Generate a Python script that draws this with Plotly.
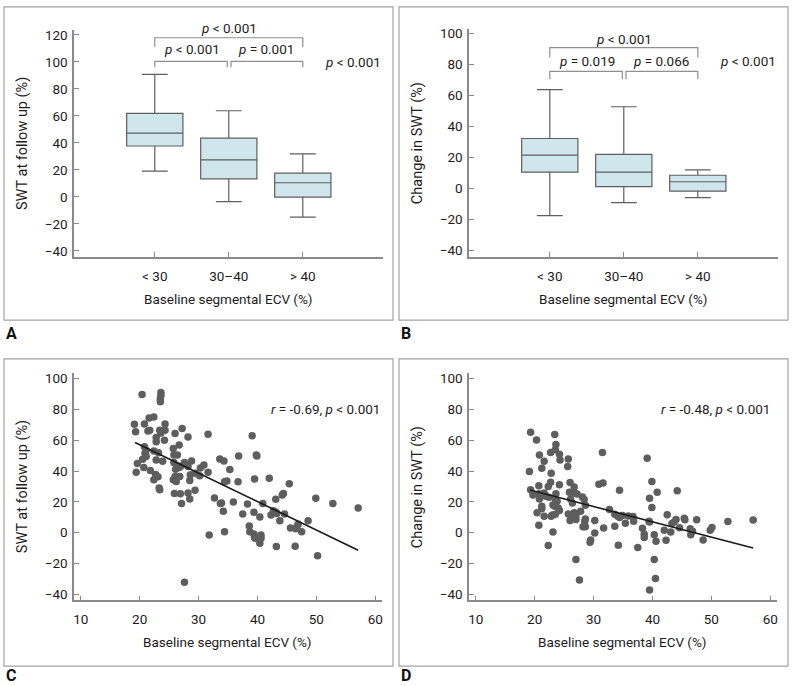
import plotly.graph_objects as go

W, H = 792, 686

# ---------------- data ----------------
categories = ["&lt; 30", "30–40", "&gt; 40"]
cat_pos = [1, 2, 3]

# Panel A: SWT at follow up (%) box stats
a_q1 = [37.7, 13.4, -0.2]
a_median = [47.2, 27.4, 10.5]
a_q3 = [61.9, 43.5, 17.6]
a_lower = [19.1, -3.4, -14.9]
a_upper = [90.7, 63.8, 31.8]

# Panel B: Change in SWT (%) box stats
b_q1 = [10.7, 1.3, -1.5]
b_median = [21.7, 10.7, 4.5]
b_q3 = [32.4, 22.2, 8.7]
b_lower = [-17.3, -9.0, -5.8]
b_upper = [64.0, 52.9, 12.2]

# Pairwise p-values: (left category, right category, label)
a_pairs = [(1, 3, "<i>p</i> &lt; 0.001"), (1, 2, "<i>p</i> &lt; 0.001"), (2, 3, "<i>p</i> = 0.001")]
b_pairs = [(1, 3, "<i>p</i> &lt; 0.001"), (1, 2, "<i>p</i> = 0.019"), (2, 3, "<i>p</i> = 0.066")]
overall_p = "<i>p</i> &lt; 0.001"

# Panel C: ECV vs SWT at follow up
c_x = [20.4, 23.6, 23.6, 23.5, 23.5, 19.1, 19.3, 20.8, 21.6, 22.4, 21.4, 21.7, 24.3, 24.3, 22.8,
       22.8, 23.6, 23.4, 24.2, 27.2, 26.0, 28.2, 31.6, 39.1, 25.7, 26.7, 20.8, 21.1, 20.9, 21.1,
       19.6, 20.5, 22.4, 23.2, 22.8, 23.9, 25.8, 26.4, 19.4, 20.7, 21.8, 22.7, 23.1, 22.4, 23.3,
       23.4, 25.8, 26.1, 26.4, 26.7, 27.0, 27.6, 28.2, 28.8, 28.6, 28.5, 29.5, 30.2, 30.3, 30.9,
       31.6, 25.7, 26.0, 26.2, 26.8, 25.9, 26.9, 27.1, 28.2, 28.5, 29.4, 33.6, 34.3, 35.3, 36.8,
       36.7, 34.4, 34.8, 32.7, 33.7, 33.9, 35.9, 34.2, 34.4, 31.8, 37.5, 38.3, 39.5, 39.8, 39.9,
       42.0, 45.4, 44.2, 44.4, 40.9, 39.4, 40.4, 43.1, 42.3, 42.7, 43.1, 43.3, 44.6, 43.8, 38.6,
       38.7, 39.4, 39.5, 39.6, 40.6, 40.6, 40.4, 43.2, 45.6, 46.4, 46.5, 46.7, 46.9, 47.5, 48.6,
       49.9, 52.8, 57.1, 50.2, 27.6]
c_y = [89.7, 91.0, 89.0, 87.0, 85.0, 70.4, 65.5, 70.6, 74.5, 75.1, 66.0, 66.5, 70.6, 66.5, 61.8,
       59.0, 64.8, 66.5, 60.0, 67.6, 64.4, 62.2, 63.9, 63.0, 54.7, 56.9, 55.8, 53.6, 51.5, 49.4,
       45.0, 47.6, 53.0, 51.9, 47.2, 46.4, 50.4, 50.4, 39.3, 42.3, 40.3, 37.8, 36.3, 34.3, 29.0,
       27.9, 45.5, 41.2, 43.3, 42.3, 43.3, 45.5, 42.9, 46.6, 37.6, 33.9, 38.6, 36.9, 42.0, 44.0,
       39.3, 34.3, 36.5, 33.3, 36.5, 25.5, 25.3, 18.9, 25.8, 21.9, 27.5, 47.9, 46.6, 41.0, 49.8,
       33.0, 33.0, 33.5, 22.5, 18.9, 19.3, 20.0, 13.9, 0.6, -1.5, 12.2, 18.7, 34.8, 50.4, 49.8,
       35.4, 31.8, 24.5, 25.5, 18.9, 13.3, 10.1, 21.7, 11.4, 14.2, 13.5, 12.4, 12.2, 7.7, 4.3,
       0.6, -0.9, -3.0, -3.6, -1.5, -3.6, -6.9, -9.0, 3.0, -8.8, 2.6, 3.9, 5.4, 0.6, 7.7,
       22.3, 18.9, 16.1, -15.0, -32.2]
c_fit_x = [19.2, 57.1]
c_fit_y = [58.6, -11.4]
c_stat = "<i>r</i> = -0.69, <i>p</i> &lt; 0.001"

# Panel D: ECV vs change in SWT
d_x = [19.3, 20.3, 20.8, 21.6, 21.2, 19.1, 23.4, 23.6, 23.5, 24.2, 24.3, 22.7, 22.8, 22.7, 24.2,
       20.7, 22.3, 19.3, 19.7, 20.7, 20.8, 21.6, 21.9, 22.4, 23.6, 23.5, 23.1, 23.4, 23.8, 24.0,
       24.2, 21.2, 21.2, 20.4, 21.6, 22.8, 23.0, 23.5, 20.7, 23.1, 22.3, 25.7, 25.6, 26.0, 26.7,
       25.9, 26.8, 27.2, 26.1, 26.4, 28.1, 28.4, 28.6, 25.7, 26.7, 27.0, 26.5, 26.0, 27.0, 27.8,
       28.6, 28.5, 28.2, 28.6, 29.5, 29.4, 30.2, 30.2, 27.0, 27.6, 30.9, 31.6, 31.5, 31.7, 32.7,
       33.6, 34.1, 34.4, 34.9, 34.4, 33.6, 34.2, 35.4, 35.9, 36.7, 36.8, 37.5, 38.3, 38.6, 38.6,
       39.1, 39.5, 39.9, 39.9, 40.8, 39.5, 39.4, 40.3, 40.6, 40.3, 40.5, 39.5, 42.0, 42.3, 42.5,
       43.1, 43.3, 43.7, 44.0, 44.2, 44.6, 45.4, 45.5, 46.4, 46.5, 46.8, 47.5, 48.6, 49.8, 50.1,
       52.8, 57.1]
d_y = [65.2, 60.1, 50.4, 46.4, 41.8, 39.7, 63.7, 57.3, 53.9, 50.9, 47.2, 52.1, 38.6, 32.8, 31.1,
       30.5, 30.0, 27.9, 24.5, 25.3, 21.9, 25.8, 23.6, 23.0, 25.3, 21.5, 18.0, 17.2, 20.4, 16.1,
       14.4, 17.2, 15.5, 12.9, 10.7, 10.7, 11.4, 12.0, 4.9, 0.4, -8.4, 47.9, 42.9, 32.6, 29.6,
       26.2, 25.8, 25.1, 21.9, 19.3, 23.2, 21.5, 17.8, 12.2, 12.9, 11.2, 9.7, 7.9, 8.6, 13.9,
       8.8, 7.5, 3.9, 3.9, -4.7, -6.2, 7.9, -0.2, -17.4, -30.7, 31.5, 32.2, 52.1, 3.0, 15.0,
       12.0, 10.7, 9.9, 11.2, 27.5, 4.1, -8.2, 6.2, 10.9, 10.5, 7.5, -9.7, 2.8, -1.1, -3.2,
       48.3, 22.3, 33.3, 16.3, 26.2, 6.9, 7.5, -1.3, -5.6, -17.4, -29.8, -37.3, 1.5, -4.9, 11.6,
       0.4, 6.0, 6.9, 8.6, 27.3, 3.2, 9.4, 8.4, 2.6, -1.3, 0.9, 8.4, -4.7, 1.5, 3.4,
       7.3, 8.2]
d_fit_x = [19.2, 57.1]
d_fit_y = [27.7, -9.9]
d_stat = "<i>r</i> = -0.48, <i>p</i> &lt; 0.001"

x_title = "Baseline segmental ECV (%)"
a_ytitle = "SWT at follow up (%)"
b_ytitle = "Change in SWT (%)"

# ---------------- layout geometry (pixels) ----------------
def px_x(p):
    return p / W

def px_y(p):
    return 1 - p / H

FONT = "Roboto, 'Open Sans', sans-serif"
TXT = "#1e1b1c"
AXC = "#8a8a8a"
BOXFILL = "#cfe6ec"
BOXLINE = "#5e5e5e"
PTC = "#5e5e5e"

panels = {
    "A": dict(ax="", dom_x=(73.3, 382.7), dom_y=(26.7, 255.3), xr=[-0.09, 4.08], yr=[-44.5, 123.2]),
    "B": dict(ax="2", dom_x=(469.3, 778.7), dom_y=(25.0, 255.3), xr=[-0.09, 4.08], yr=[-44.1, 103.2]),
    "C": dict(ax="3", dom_x=(73.3, 381.7), dom_y=(372.7, 601.7), xr=[8.86, 61.1], yr=[-44.0, 103.4]),
    "D": dict(ax="4", dom_x=(469.3, 777.7), dom_y=(372.7, 601.7), xr=[8.86, 61.1], yr=[-44.0, 103.4]),
}

def dom(v, r):
    return (v - r[0]) / (r[1] - r[0])

def to_paper(key, xv, yv):
    p = panels[key]
    fx = dom(xv, p["xr"])
    fy = dom(yv, p["yr"])
    x0, x1 = px_x(p["dom_x"][0]), px_x(p["dom_x"][1])
    y0, y1 = px_y(p["dom_y"][1]), px_y(p["dom_y"][0])
    return x0 + fx * (x1 - x0), y0 + fy * (y1 - y0)

fig = go.Figure()

# Box plots
for key, q1, med, q3, lo, hi in [("A", a_q1, a_median, a_q3, a_lower, a_upper),
                                 ("B", b_q1, b_median, b_q3, b_lower, b_upper)]:
    a = panels[key]["ax"]
    fig.add_trace(go.Box(
        x=cat_pos, q1=q1, median=med, q3=q3, lowerfence=lo, upperfence=hi,
        fillcolor=BOXFILL, line=dict(color=BOXLINE, width=1.2),
        width=0.76, whiskerwidth=0.46, boxpoints=False, showlegend=False,
        hoverinfo="skip", xaxis="x" + a, yaxis="y" + a))

# Scatter plots
for key, xs, ys, fx, fy in [("C", c_x, c_y, c_fit_x, c_fit_y), ("D", d_x, d_y, d_fit_x, d_fit_y)]:
    a = panels[key]["ax"]
    fig.add_trace(go.Scatter(
        x=xs, y=ys, mode="markers", marker=dict(color=PTC, size=7.5, line=dict(width=0)),
        showlegend=False, xaxis="x" + a, yaxis="y" + a, cliponaxis=False))
    fig.add_trace(go.Scatter(
        x=fx, y=fy, mode="lines", line=dict(color="#1a1a1a", width=1.6),
        showlegend=False, xaxis="x" + a, yaxis="y" + a))

layout = dict(
    width=W, height=H, margin=dict(l=0, r=0, t=0, b=0),
    paper_bgcolor="white", plot_bgcolor="white",
    font=dict(family=FONT, size=13, color=TXT),
    showlegend=False,
)

axis_common = dict(
    showline=True, linecolor=AXC, linewidth=1.5, ticks="inside", ticklen=5,
    tickcolor=AXC, tickwidth=1.2, showgrid=False, zeroline=False,
    tickfont=dict(family=FONT, size=13.5, color=TXT), fixedrange=True,
)

for key, p in panels.items():
    a = p["ax"]
    xa = dict(axis_common, domain=[px_x(p["dom_x"][0]), px_x(p["dom_x"][1])], range=p["xr"],
              anchor="y" + a, ticklabelstandoff=6)
    ya = dict(axis_common, domain=[px_y(p["dom_y"][1]), px_y(p["dom_y"][0])], range=p["yr"],
              anchor="x" + a, ticklabelstandoff=2)
    if key in ("A", "B"):
        xa.update(tickmode="array", tickvals=cat_pos, ticktext=categories)
        ytop = 120 if key == "A" else 100
        ya.update(tickmode="array", tickvals=list(range(-40, ytop + 1, 20)))
    else:
        xa.update(tickmode="array", tickvals=list(range(10, 61, 10)))
        ya.update(tickmode="array", tickvals=list(range(-40, 101, 20)))
    layout["xaxis" + a] = xa
    layout["yaxis" + a] = ya

fig.update_layout(**layout)

shapes = []
annotations = []

# Panel frames and labels
frames = {"A": (3, 3, 393, 319), "B": (399, 3, 789, 319), "C": (3, 358, 393, 668), "D": (399, 358, 789, 668)}
label_pos = {"A": (3, 332), "B": (399, 332), "C": (3, 677), "D": (399, 677)}
for key, (x0, y0, x1, y1) in frames.items():
    shapes.append(dict(type="rect", xref="paper", yref="paper",
                       x0=px_x(x0), x1=px_x(x1), y0=px_y(y1), y1=px_y(y0),
                       line=dict(color="#a3a3a3", width=1.2), fillcolor="rgba(0,0,0,0)", layer="below"))
    lx, ly = label_pos[key]
    annotations.append(dict(text="<b>%s</b>" % key, xref="paper", yref="paper",
                            x=px_x(lx), y=px_y(ly), xanchor="left", yanchor="middle",
                            showarrow=False, font=dict(family=FONT, size=16, color="#111")))

# Axis titles
for key, p in panels.items():
    cx = (p["dom_x"][0] + p["dom_x"][1]) / 2
    ty = p["dom_y"][1] + 42
    annotations.append(dict(text=x_title, xref="paper", yref="paper", x=px_x(cx), y=px_y(ty),
                            xanchor="center", yanchor="middle", showarrow=False,
                            font=dict(family=FONT, size=13.5, color=TXT)))
    yt = a_ytitle if key in ("A", "C") else b_ytitle
    tx = p["dom_x"][0] - 51
    cy = (p["dom_y"][0] + p["dom_y"][1]) / 2
    annotations.append(dict(text=yt, xref="paper", yref="paper", x=px_x(tx), y=px_y(cy),
                            xanchor="center", yanchor="middle", textangle=-90, showarrow=False,
                            font=dict(family=FONT, size=14.5, color=TXT)))

# Brackets for box panels
bracket_levels = {
    "A": dict(top=(117.8, 111.0, 125.0), low=(100.3, 96.0, 109.8), overall=(3.68, 100.0)),
    "B": dict(top=(91.0, 84.6, 96.8), low=(75.7, 70.6, 82.1), overall=(3.68, 82.1)),
}
for key, pairs in (("A", a_pairs), ("B", b_pairs)):
    p = panels[key]
    lev = bracket_levels[key]
    for i, (c0, c1, lab) in enumerate(pairs):
        yh, yl, yt = lev["top"] if i == 0 else lev["low"]
        x0 = c0 + (0.0 if c0 == 1 else 0.03)
        x1 = c1 - (0.0 if c1 == 3 else 0.02)
        X0, YL = to_paper(key, x0, yl)
        X1, YH = to_paper(key, x1, yh)
        shapes.append(dict(type="path", xref="paper", yref="paper",
                           path="M %f,%f L %f,%f L %f,%f L %f,%f" % (X0, YL, X0, YH, X1, YH, X1, YL),
                           line=dict(color="#8f8f8f", width=1.2)))
        tx, ty = to_paper(key, (c0 + c1) / 2, yt)
        annotations.append(dict(text=lab, xref="paper", yref="paper", x=tx, y=ty,
                                xanchor="center", yanchor="middle", showarrow=False,
                                font=dict(family=FONT, size=13.5, color=TXT)))
    ox, oy = to_paper(key, *lev["overall"])
    annotations.append(dict(text=overall_p, xref="paper", yref="paper", x=ox, y=oy,
                            xanchor="center", yanchor="middle", showarrow=False,
                            font=dict(family=FONT, size=13.5, color=TXT)))

# Correlation stats
for key, stat, sx in (("C", c_stat, 61.2), ("D", d_stat, 60.3)):
    tx, ty = to_paper(key, sx, 80)
    annotations.append(dict(text=stat, xref="paper", yref="paper", x=tx, y=ty,
                            xanchor="right", yanchor="middle", showarrow=False,
                            font=dict(family=FONT, size=13.5, color=TXT)))

fig.update_layout(shapes=shapes, annotations=annotations)
fig.write_html("out.html", config={"displayModeBar": False},
               post_script="document.body.style.margin='0px';")
